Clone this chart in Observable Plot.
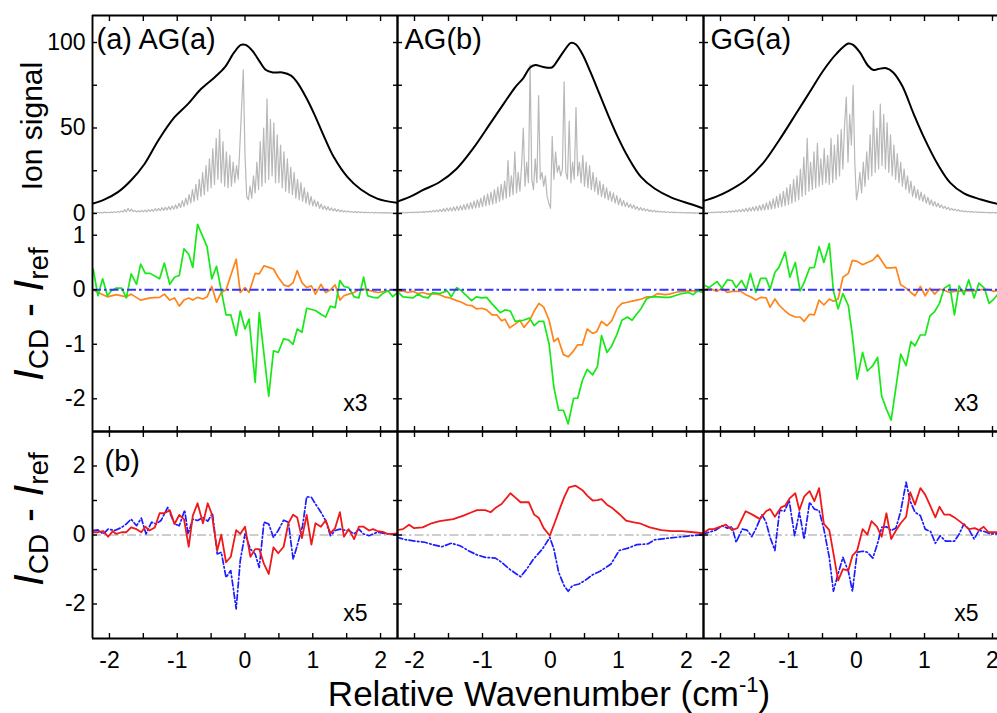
<!DOCTYPE html>
<html><head><meta charset="utf-8">
<script src="https://cdn.jsdelivr.net/npm/d3@7"></script>
<script src="https://cdn.jsdelivr.net/npm/@observablehq/plot@0.6"></script>
<style>
html,body{margin:0;padding:0;background:#fff;}
body{width:997px;height:713px;overflow:hidden;font-family:"Liberation Sans",Arial,sans-serif;}
#fig{position:relative;width:997px;height:713px;overflow:hidden;}
#fig svg{position:absolute;}
</style></head><body><div id="fig"></div>
<script>
// ---------------- data ----------------
const panelNames = ["(a) AG(a)", "AG(b)", "GG(a)"];
const rowBLabel = "(b)";
const scaleNoteMid = ["x3", "", "x3"];
const scaleNoteBot = ["x5", "", "x5"];
const xTicks = [-2, -1.5, -1, -0.5, 0, 0.5, 1, 1.5, 2];
const xTickLabels = [-2, -1, 0, 1, 2];
const ionTicks = [0, 25, 50, 75, 100];
const ionTickLabels = [0, 50, 100];
const midTicks = [-2, -1, 0, 1];
const midTickLabels = [-2, -1, 0, 1];
const botTicks = [-2, -1, 0, 1, 2];
const botTickLabels = [-2, 0, 2];

// smooth envelope (black)
const envAGa = [[-2.24,5.8],[-2.07,8.2],[-1.87,12.6],[-1.68,19.4],[-1.48,29.1],[-1.28,42.7],[-1.04,56.3],[-0.84,64.1],[-0.65,72.8],[-0.45,79.6],[-0.30,85.4],[-0.16,94.2],[-0.06,98.6],[0.01,98.6],[0.11,95.1],[0.21,89.3],[0.31,83.9],[0.41,82.5],[0.55,82.5],[0.68,80.6],[0.77,76.7],[0.90,68.0],[1.02,58.3],[1.17,44.7],[1.31,33.0],[1.51,21.4],[1.71,14.0],[1.95,8.7],[2.25,6.2]];
const envAGb = [[-2.26,6.8],[-2.07,9.7],[-1.88,13.6],[-1.63,18.4],[-1.38,26.2],[-1.14,37.9],[-0.89,52.4],[-0.69,64.1],[-0.52,73.8],[-0.40,79.2],[-0.30,85.4],[-0.22,86.8],[-0.12,85.8],[0.02,85.4],[0.10,89.3],[0.20,95.1],[0.30,99.8],[0.37,99.0],[0.47,93.2],[0.59,82.5],[0.72,69.9],[0.84,58.3],[0.99,44.7],[1.14,33.0],[1.33,21.4],[1.53,14.6],[1.78,9.3],[2.07,5.4],[2.25,2.9]];
const envGGa = [[-2.26,7.2],[-2.07,9.7],[-1.88,13.2],[-1.63,19.4],[-1.38,29.1],[-1.14,42.7],[-0.89,58.3],[-0.69,70.9],[-0.49,83.5],[-0.30,93.2],[-0.12,99.4],[-0.05,98.6],[0.05,94.2],[0.17,86.4],[0.25,83.9],[0.32,84.5],[0.44,85.0],[0.54,82.5],[0.67,74.8],[0.84,58.3],[0.99,44.7],[1.19,29.1],[1.38,17.9],[1.58,11.7],[1.83,8.2],[2.10,5.4],[2.25,4.4]];

// rotationally resolved spectra (grey), sampled from x = -2.25 every 0.025
const grayX0 = -2.25, grayDx = 0.025;
const grayAGa = [0.3,0.6,0.3,0.7,0.4,0.6,0.3,0.8,0.4,0.7,0.4,
0.9,0.5,1.0,0.6,1.2,0.7,1.5,0.8,2.2,1.0,3.0,1.2,2.6,1.0,1.8,0.9,1.6,0.9,1.8,1.0,
2.0,1.0,2.2,1.2,2.4,1.3,2.8,1.5,3.0,1.6,3.4,1.8,3.6,2.0,4.0,2.2,4.4,2.5,5.0,2.8,
6,3.5,7.5,4,9,5,11,6,14,7,17,8,20,10,24,11,28,13,32,15,
38,17,44,20,49,18,42,16,36,15,34,16,30,18,28,20,40,62,84,34,
10,8,16,9,22,12,30,14,42,16,50,18,67,20,55,22,53,18,46,18,
40,15,36,13,32,12,27,11,24,9,20,8,18,7,15,6,12.5,5,10,4.5,
8,4,7,3,5.5,2.5,4.5,2,4,1.8,3.2,1.5,2.8,1.2,2.4,1.0,2.0,0.9,1.6,0.8,
1.4,0.7,1.2,0.6,1.1,0.5,1.0,0.5,0.9,0.4,0.8,0.4,0.7,0.3,0.7,0.3,0.6,0.3,0.6,0.3,0.5,0.3,0.5,0.3,0.5,0.2,0.4,0.2,0.4,0.2];
const grayAGb = [0.2,0.5,0.3,0.6,0.3,0.6,0.4,0.7,0.4,0.8,0.5,
0.9,0.5,1.0,0.6,1.1,0.6,1.3,0.7,1.5,0.8,1.8,0.9,2.0,1.0,2.4,1.1,2.8,1.2,3.2,1.4,
3.4,1.5,3.8,1.6,4.2,1.8,4.6,2.0,5.2,2.2,5.8,2.5,6.4,2.8,7.2,3.2,8.0,3.6,9.0,4.0,
10.5,4.5,11.5,5,12.5,5.5,14,6,15.5,7,17,8,19,9,31,10,22,11,36,12,
24,13,28,50,16,30,18,87,20,14,32,18,69,20,24,16,22,10,6,3,
45,20,36,24,28,22,26,77,24,20,54,18,30,20,62,22,30,18,34,16,
30,15,28,14,24,13,21,11,19,10,17,9,15,8,13,7,12,6,10.5,5,
9,4.5,7.5,4,6.5,3.5,5.5,3,5,2.5,4,2,3.5,1.8,3,1.5,2.5,1.2,2,1,
1.8,0.9,1.5,0.8,1.3,0.7,1.1,0.6,1.0,0.5,0.9,0.5,0.8,0.4,0.7,0.4,0.6,0.3,0.6,0.3,0.5,0.3,0.5,0.2,0.4,0.2,0.4,0.2,0.3,0.2];
const grayGGa = [0.3,0.6,0.3,0.7,0.4,0.8,0.4,0.9,0.5,1.0,0.5,
1.1,0.6,1.2,0.6,1.4,0.7,1.6,0.8,1.9,0.9,2.2,1.0,2.6,1.1,3.0,1.2,3.4,1.4,3.8,1.5,
4.2,1.6,4.8,1.8,5.4,2.0,6.2,2.3,7.2,2.6,8.5,3.0,10,3.5,11.5,4.0,13,4.6,15,5.2,
17,6,20,7,22,8,26,10,33,11,44,13,30,14,36,15,41,16,32,17,
38,18,34,17,44,18,40,20,46,22,49,26,52,68,30,58,40,75,30,8,
14,24,12,30,16,36,20,46,22,60,24,50,26,64,28,58,26,53,24,46,
22,40,20,35,18,30,16,26,14,22,12,19,10,16,9,14,8,12.5,7,11,
6,9.5,5,8,4.5,7,4,6,3.5,5,3,4.2,2.5,3.6,2,3,1.8,2.6,1.5,2.2,
1.2,1.8,1.0,1.5,0.9,1.3,0.8,1.1,0.7,1.0,0.6,0.9,0.5,0.8,0.5,0.7,0.4,0.6,0.4,0.6,0.3,0.5,0.3,0.5,0.3,0.4,0.2,0.4,0.2,0.3];

// I_CD - I_ref, middle row (green, orange)
const greenAGa = [[-2.24,0.38],[-2.17,-0.11],[-2.10,0.20],[-2.03,-0.11],[-1.97,-0.02],[-1.90,0.03],[-1.82,0.03],[-1.75,-0.15],[-1.68,0.29],[-1.60,0.10],[-1.54,0.47],[-1.47,0.30],[-1.40,0.30],[-1.26,0.20],[-1.19,0.49],[-1.11,0.10],[-1.04,0.23],[-0.97,0.26],[-0.90,0.75],[-0.83,0.65],[-0.77,0.41],[-0.70,1.20],[-0.56,0.79],[-0.49,0.20],[-0.42,0.43],[-0.28,-0.46],[-0.21,-0.46],[-0.13,-0.84],[-0.07,-0.39],[0.00,-0.72],[0.06,-0.54],[0.15,-1.70],[0.21,-0.42],[0.28,-1.18],[0.35,-1.95],[0.42,-1.12],[0.49,-1.15],[0.57,-0.90],[0.64,-0.92],[0.71,-1.00],[0.77,-0.72],[0.84,-0.78],[0.91,-0.34],[1.04,-0.38],[1.12,-0.45],[1.19,-0.50],[1.26,-0.30],[1.33,-0.33],[1.40,0.17],[1.46,0.06],[1.53,0.04],[1.61,-0.13],[1.68,-0.15],[1.75,0.23],[1.81,-0.11],[1.89,-0.14],[1.96,-0.15],[2.03,-0.07],[2.11,-0.02],[2.18,-0.13],[2.25,-0.05]];
const orangeAGa = [[-2.24,0.00],[-2.17,-0.05],[-2.03,-0.13],[-1.90,-0.09],[-1.75,-0.13],[-1.68,-0.08],[-1.54,-0.19],[-1.40,-0.15],[-1.26,-0.14],[-1.19,-0.08],[-1.11,-0.19],[-1.04,-0.15],[-0.97,-0.30],[-0.90,-0.19],[-0.83,-0.15],[-0.77,-0.19],[-0.70,-0.14],[-0.62,-0.17],[-0.56,-0.13],[-0.49,0.06],[-0.42,-0.23],[-0.35,-0.05],[-0.28,0.00],[-0.13,0.56],[-0.07,-0.05],[0.00,0.04],[0.06,-0.05],[0.15,0.30],[0.21,0.29],[0.28,0.44],[0.35,0.41],[0.42,0.38],[0.49,0.23],[0.57,0.09],[0.64,0.06],[0.71,0.13],[0.77,0.35],[0.84,0.13],[0.91,0.04],[0.98,0.07],[1.04,-0.08],[1.12,0.10],[1.19,-0.05],[1.26,0.00],[1.33,0.09],[1.40,-0.19],[1.46,-0.11],[1.53,-0.08],[1.61,-0.05],[1.68,0.00],[1.75,0.01],[1.89,-0.03],[1.96,-0.05],[2.11,-0.02],[2.18,0.00],[2.25,-0.03]];
const greenAGb = [[-2.26,-0.02],[-2.17,-0.13],[-2.02,-0.15],[-1.95,-0.08],[-1.88,-0.13],[-1.80,-0.15],[-1.73,-0.05],[-1.63,-0.07],[-1.52,-0.02],[-1.46,-0.13],[-1.38,0.04],[-1.31,-0.02],[-1.16,-0.20],[-1.09,-0.13],[-1.01,-0.15],[-0.94,-0.14],[-0.86,-0.26],[-0.74,-0.42],[-0.67,-0.37],[-0.59,-0.39],[-0.52,-0.58],[-0.40,-0.56],[-0.31,-0.52],[-0.24,-0.66],[-0.17,-0.58],[-0.10,-0.58],[-0.02,-1.00],[0.05,-1.79],[0.12,-2.21],[0.19,-2.21],[0.26,-2.46],[0.34,-1.99],[0.40,-1.99],[0.47,-1.66],[0.54,-1.46],[0.62,-1.56],[0.69,-1.41],[0.75,-0.84],[0.83,-1.15],[0.90,-1.03],[0.98,-0.81],[1.05,-0.56],[1.13,-0.50],[1.20,-0.56],[1.26,-0.46],[1.33,-0.35],[1.41,-0.17],[1.48,-0.13],[1.58,-0.13],[1.68,-0.14],[1.75,-0.14],[1.83,-0.11],[1.93,-0.07],[2.03,-0.05],[2.10,-0.09],[2.16,-0.02],[2.25,-0.05]];
const orangeAGb = [[-2.26,-0.03],[-2.17,-0.02],[-2.10,-0.05],[-2.02,-0.03],[-1.95,-0.07],[-1.88,-0.05],[-1.80,-0.08],[-1.73,-0.07],[-1.63,-0.09],[-1.56,-0.13],[-1.48,-0.15],[-1.38,-0.20],[-1.31,-0.23],[-1.23,-0.28],[-1.16,-0.29],[-1.09,-0.35],[-1.01,-0.34],[-0.94,-0.37],[-0.86,-0.46],[-0.79,-0.46],[-0.72,-0.57],[-0.67,-0.54],[-0.60,-0.70],[-0.52,-0.63],[-0.45,-0.56],[-0.39,-0.69],[-0.31,-0.57],[-0.24,-0.39],[-0.17,-0.25],[-0.10,-0.32],[-0.02,-0.56],[0.05,-0.95],[0.11,-0.89],[0.19,-1.19],[0.26,-1.23],[0.34,-1.12],[0.40,-1.01],[0.47,-1.01],[0.54,-0.72],[0.62,-0.80],[0.68,-0.77],[0.75,-0.58],[0.83,-0.66],[0.90,-0.57],[0.98,-0.34],[1.05,-0.25],[1.13,-0.23],[1.20,-0.21],[1.27,-0.19],[1.34,-0.17],[1.42,-0.13],[1.50,-0.13],[1.58,-0.07],[1.68,-0.09],[1.75,-0.08],[1.83,-0.05],[1.93,-0.03],[2.02,-0.02],[2.10,-0.02],[2.16,-0.03],[2.25,-0.01]];
const greenGGa = [[-2.26,0.10],[-2.17,0.04],[-2.05,0.15],[-1.98,0.03],[-1.90,0.18],[-1.83,0.17],[-1.77,0.04],[-1.69,0.17],[-1.62,0.01],[-1.56,0.30],[-1.48,-0.05],[-1.41,0.21],[-1.33,0.21],[-1.27,0.01],[-1.20,0.32],[-1.14,0.41],[-1.05,0.69],[-0.98,0.23],[-0.90,0.50],[-0.83,-0.02],[-0.77,0.13],[-0.69,0.40],[-0.62,0.41],[-0.55,0.79],[-0.48,0.50],[-0.40,0.85],[-0.34,-0.02],[-0.27,-0.35],[-0.20,-0.07],[-0.12,-0.29],[-0.06,-0.84],[0.01,-1.64],[0.09,-1.15],[0.16,-1.49],[0.24,-1.39],[0.31,-1.24],[0.37,-1.95],[0.44,-2.19],[0.51,-2.39],[0.58,-1.79],[0.65,-1.18],[0.73,-1.39],[0.80,-0.95],[0.86,-1.03],[0.94,-0.83],[1.01,-0.83],[1.08,-0.48],[1.15,-0.40],[1.22,-0.25],[1.29,0.03],[1.37,0.09],[1.44,-0.46],[1.51,0.07],[1.58,-0.09],[1.65,0.18],[1.73,-0.15],[1.80,0.12],[1.88,0.03],[1.95,-0.25],[2.02,-0.17],[2.10,-0.05]];
const orangeGGa = [[-2.26,-0.02],[-2.17,0.03],[-2.05,-0.03],[-1.98,0.03],[-1.90,-0.05],[-1.83,-0.03],[-1.70,-0.03],[-1.63,-0.09],[-1.56,-0.13],[-1.48,-0.19],[-1.41,-0.14],[-1.33,-0.15],[-1.27,-0.32],[-1.20,-0.17],[-1.14,-0.28],[-1.05,-0.39],[-0.98,-0.46],[-0.90,-0.50],[-0.83,-0.50],[-0.77,-0.58],[-0.69,-0.45],[-0.62,-0.46],[-0.55,-0.19],[-0.48,-0.28],[-0.40,-0.17],[-0.34,-0.21],[-0.27,-0.17],[-0.20,0.23],[-0.12,0.30],[-0.06,0.54],[0.01,0.52],[0.09,0.46],[0.16,0.50],[0.24,0.54],[0.31,0.64],[0.37,0.53],[0.44,0.40],[0.51,0.40],[0.58,0.41],[0.65,0.09],[0.73,0.03],[0.80,-0.05],[0.86,-0.11],[0.94,0.06],[1.01,-0.11],[1.08,0.03],[1.15,-0.08],[1.22,0.01],[1.29,-0.01],[1.37,-0.05],[1.44,-0.03],[1.58,-0.02],[1.73,-0.02],[1.88,0.01],[1.95,0.00],[2.02,-0.03],[2.10,-0.01]];

// I_CD - I_ref, bottom row (red solid, blue dash-dot)
const redAGa = [[-2.24,0.08],[-2.17,0.08],[-2.09,0.11],[-2.02,-0.05],[-1.95,0.11],[-1.90,0.03],[-1.82,0.08],[-1.75,0.08],[-1.68,0.22],[-1.60,0.17],[-1.53,0.08],[-1.47,0.24],[-1.41,0.13],[-1.33,0.22],[-1.26,0.63],[-1.19,0.63],[-1.11,0.72],[-1.04,0.32],[-0.97,0.58],[-0.90,0.46],[-0.83,-0.34],[-0.77,0.56],[-0.70,0.92],[-0.62,0.34],[-0.55,0.92],[-0.49,0.61],[-0.41,-0.45],[-0.35,0.01],[-0.28,-0.79],[-0.21,-0.63],[-0.13,0.14],[-0.07,0.03],[0.00,0.24],[0.08,-0.63],[0.15,-0.41],[0.21,-0.41],[0.28,-0.84],[0.35,-1.13],[0.42,-0.36],[0.49,-0.53],[0.57,-0.34],[0.64,0.34],[0.71,0.59],[0.77,0.51],[0.84,-0.09],[0.91,0.58],[0.98,-0.28],[1.04,0.34],[1.12,0.24],[1.19,0.43],[1.26,0.05],[1.33,0.20],[1.40,0.66],[1.46,-0.05],[1.53,0.17],[1.61,-0.12],[1.68,0.24],[1.75,0.24],[1.83,0.13],[1.89,0.17],[1.96,0.11],[2.05,0.08],[2.11,0.03],[2.18,0.03],[2.25,0.05]];
const blueAGa = [[-2.24,0.13],[-2.17,0.15],[-2.09,0.03],[-2.02,0.17],[-1.92,0.13],[-1.82,0.22],[-1.75,0.32],[-1.68,0.46],[-1.60,0.27],[-1.53,0.49],[-1.46,0.03],[-1.38,0.37],[-1.31,0.32],[-1.24,0.42],[-1.14,0.80],[-1.04,0.32],[-0.97,0.27],[-0.89,0.72],[-0.84,0.03],[-0.77,0.46],[-0.70,0.42],[-0.62,0.51],[-0.55,0.40],[-0.48,0.63],[-0.41,-0.55],[-0.35,-0.50],[-0.28,-1.23],[-0.21,-1.03],[-0.13,-2.14],[-0.07,-0.74],[0.00,0.03],[0.08,-0.41],[0.15,-0.55],[0.21,-0.94],[0.28,0.37],[0.35,0.32],[0.42,-0.07],[0.49,0.13],[0.57,0.43],[0.64,0.37],[0.71,-0.70],[0.77,-0.31],[0.85,0.27],[0.91,1.11],[0.98,1.09],[1.04,0.90],[1.12,0.66],[1.19,0.42],[1.26,-0.02],[1.33,0.13],[1.40,0.17],[1.46,0.14],[1.53,0.13],[1.61,0.03],[1.68,0.17],[1.75,0.03],[1.83,-0.02],[1.95,0.08],[2.11,0.03],[2.25,0.01]];
const redAGb = [[-2.26,0.14],[-2.17,0.17],[-2.08,0.30],[-2.01,0.20],[-1.88,0.22],[-1.75,0.34],[-1.63,0.40],[-1.43,0.46],[-1.28,0.56],[-1.16,0.66],[-1.08,0.72],[-0.96,0.72],[-0.88,0.66],[-0.80,0.80],[-0.72,0.90],[-0.59,1.21],[-0.52,1.09],[-0.44,0.95],[-0.32,0.95],[-0.24,0.59],[-0.17,0.49],[-0.10,0.20],[-0.01,-0.02],[0.07,0.40],[0.14,0.78],[0.20,1.09],[0.27,1.38],[0.37,1.43],[0.47,1.30],[0.54,1.14],[0.62,1.00],[0.69,1.01],[0.75,1.04],[0.83,0.88],[0.91,0.78],[1.01,0.61],[1.11,0.42],[1.21,0.37],[1.31,0.34],[1.46,0.22],[1.63,0.14],[1.78,0.11],[1.93,0.11],[2.10,0.08],[2.25,0.05]];
const blueAGb = [[-2.26,-0.07],[-2.12,-0.14],[-1.98,-0.18],[-1.85,-0.21],[-1.73,-0.28],[-1.60,-0.34],[-1.46,-0.24],[-1.33,-0.31],[-1.21,-0.45],[-1.09,-0.57],[-0.96,-0.65],[-0.81,-0.67],[-0.72,-0.79],[-0.59,-1.01],[-0.44,-1.21],[-0.35,-0.99],[-0.25,-0.70],[-0.12,-0.41],[-0.01,-0.07],[0.05,-0.41],[0.12,-1.08],[0.20,-1.47],[0.26,-1.63],[0.32,-1.47],[0.42,-1.42],[0.52,-1.30],[0.62,-1.15],[0.73,-1.05],[0.89,-0.84],[1.01,-0.45],[1.14,-0.38],[1.27,-0.28],[1.43,-0.26],[1.53,-0.14],[1.73,-0.09],[1.93,-0.05],[2.07,-0.02],[2.25,0.01]];
const redGGa = [[-2.26,0.05],[-2.17,0.17],[-2.10,0.17],[-2.00,0.24],[-1.92,0.30],[-1.83,0.14],[-1.75,0.20],[-1.63,0.69],[-1.53,0.59],[-1.42,0.46],[-1.33,0.69],[-1.27,0.75],[-1.20,0.53],[-1.11,0.80],[-1.05,0.85],[-0.98,1.07],[-0.90,1.21],[-0.84,0.72],[-0.77,1.11],[-0.69,1.27],[-0.62,0.98],[-0.55,1.36],[-0.48,0.32],[-0.40,0.14],[-0.35,-0.41],[-0.27,-1.32],[-0.20,-0.99],[-0.12,-1.03],[-0.06,-0.60],[0.01,-0.45],[0.09,0.17],[0.16,0.01],[0.22,0.40],[0.30,0.24],[0.37,-0.05],[0.44,0.63],[0.51,-0.12],[0.58,0.13],[0.65,0.34],[0.73,0.53],[0.79,1.24],[0.86,0.88],[0.94,1.36],[1.01,1.17],[1.09,0.82],[1.16,0.51],[1.22,0.82],[1.29,0.59],[1.37,0.59],[1.44,0.51],[1.58,0.30],[1.65,0.17],[1.74,0.20],[1.80,0.14],[1.87,0.24],[1.94,0.08],[2.02,0.08],[2.10,0.08]];
const blueGGa = [[-2.26,0.03],[-2.17,0.08],[-2.07,0.14],[-1.98,0.27],[-1.90,0.20],[-1.83,0.24],[-1.77,-0.21],[-1.68,0.17],[-1.61,0.14],[-1.54,-0.05],[-1.47,0.22],[-1.39,0.59],[-1.33,0.37],[-1.27,-0.07],[-1.20,-0.45],[-1.13,0.72],[-1.06,0.69],[-0.99,1.00],[-0.91,-0.02],[-0.84,0.66],[-0.77,-0.12],[-0.69,0.95],[-0.62,0.75],[-0.55,0.71],[-0.48,0.17],[-0.40,-0.65],[-0.34,-1.63],[-0.26,-1.05],[-0.20,-0.65],[-0.12,-1.05],[-0.06,-1.63],[0.01,-0.50],[0.09,-0.47],[0.16,-0.50],[0.24,-0.67],[0.31,-0.24],[0.37,0.22],[0.44,0.24],[0.51,0.13],[0.58,0.20],[0.65,0.69],[0.73,1.53],[0.79,0.98],[0.86,0.66],[0.94,0.56],[1.01,0.17],[1.09,0.10],[1.16,-0.24],[1.23,-0.02],[1.31,-0.18],[1.44,-0.18],[1.51,0.03],[1.58,0.32],[1.65,0.17],[1.73,-0.12],[1.80,0.13],[1.87,0.11],[1.97,0.03],[2.10,0.03]];

const ionSeries = [[envAGa, grayAGa], [envAGb, grayAGb], [envGGa, grayGGa]];
const midSeries = [[greenAGa, orangeAGa], [greenAGb, orangeAGb], [greenGGa, orangeGGa]];
const botSeries = [[redAGa, blueAGa], [redAGb, blueAGb], [redGGa, blueGGa]];

// ---------------- layout ----------------
const FONT = '"Liberation Sans", Arial, sans-serif';
const colX = [92, 397, 703];
const colW = [305, 306, 306];
const rowY = [15, 214, 431];
const rowH = [199, 217, 207];
const xDomain = [-2.25, 2.25];
const yDomains = [[-0.6, 115.8], [-2.6, 1.38], [-3, 3]];
const FR = {stroke: "#000", strokeWidth: 1.9};
const TICKFS = 23;
const fig = document.getElementById("fig");

const X = d => d[0], Y = d => d[1];
const tickOpts = {tickSize: -5, strokeWidth: 1.4, fill: "none", label: null};
const fmt = d => String(d);

function place(svg, col, row) {
  svg.style.left = colX[col] + "px";
  svg.style.top = rowY[row] + "px";
  svg.style.overflow = "visible";
  fig.appendChild(svg);
}

function plotPanel(col, row, marks) {
  return Plot.plot({
    width: colW[col], height: rowH[row],
    marginLeft: 0, marginRight: 0, marginTop: 0, marginBottom: 0,
    x: {domain: xDomain},
    y: {domain: yDomains[row]},
    style: {fontFamily: FONT, fontSize: TICKFS + "px", overflow: "visible", background: "transparent", color: "#000"},
    marks
  });
}

for (let c = 0; c < 3; c++) {
  // --- top row: ion signal
  const [env, gray] = ionSeries[c];
  const grayData = gray.map((v, i) => [grayX0 + i * grayDx, v]);
  const m1 = [
    Plot.line(grayData, {x: X, y: Y, stroke: "#b8b8b8", strokeWidth: 1.2, clip: true}),
    Plot.line(env, {x: X, y: Y, curve: "catmull-rom", stroke: "#000", strokeWidth: 2, clip: true}),
    Plot.ruleY([yDomains[0][1]], FR),
    Plot.ruleX([xDomain[0]], FR),
    Plot.ruleX([xDomain[1]], FR),
    Plot.axisX(xTicks, {anchor: "top", ...tickOpts}),
    Plot.axisY(ionTicks, {anchor: "left", ...tickOpts}),
    Plot.axisY(ionTicks, {anchor: "right", ...tickOpts}),
    Plot.text([panelNames[c]], {text: d => d, frameAnchor: "top-left", dx: c === 0 ? 4 : 7, dy: 13, lineAnchor: "top", textAnchor: "start", fontSize: 29})
  ];
  if (c === 0) m1.push(Plot.axisY(ionTickLabels, {anchor: "left", tickSize: 0, tickPadding: 7, tickFormat: fmt, fontSize: TICKFS, label: null}));
  place(plotPanel(c, 0, m1), c, 0);

  // --- middle row
  const [green, orange] = midSeries[c];
  const m2 = [
    Plot.line(orange, {x: X, y: Y, stroke: "#ff8419", strokeWidth: 1.7, clip: true}),
    Plot.line(green, {x: X, y: Y, stroke: "#17e817", strokeWidth: 1.7, clip: true}),
    Plot.ruleY([0], {stroke: "#3434ff", strokeWidth: 2, strokeDasharray: "9,3,2.5,3"}),
    Plot.ruleY([yDomains[1][0]], FR),
    Plot.ruleX([xDomain[0]], FR),
    Plot.ruleX([xDomain[1]], FR),
    Plot.axisX(xTicks, {anchor: "bottom", ...tickOpts}),
    Plot.axisY(midTicks, {anchor: "left", ...tickOpts}),
    Plot.axisY(midTicks, {anchor: "right", ...tickOpts})
  ];
  if (scaleNoteMid[c]) m2.push(Plot.text([scaleNoteMid[c]], {text: d => d, frameAnchor: "bottom-right", dx: c === 0 ? -30 : -31, dy: -28, lineAnchor: "middle", textAnchor: "end", fontSize: 23}));
  if (c === 0) m2.push(Plot.axisY(midTickLabels, {anchor: "left", tickSize: 0, tickPadding: 7, tickFormat: fmt, fontSize: TICKFS, label: null}));
  place(plotPanel(c, 1, m2), c, 1);

  // --- bottom row
  const [red, blue] = botSeries[c];
  const m3 = [
    Plot.ruleY([0], {stroke: "#bdbdbd", strokeWidth: 1.4, strokeDasharray: "9,3,2.5,3"}),
    Plot.line(blue, {x: X, y: Y, stroke: "#1c1cff", strokeWidth: 1.7, strokeDasharray: "6,2.5,1.5,2.5", clip: true}),
    Plot.line(red, {x: X, y: Y, stroke: "#f01818", strokeWidth: 1.8, clip: true}),
    Plot.ruleY([yDomains[2][0]], FR),
    Plot.ruleY([yDomains[2][1]], FR),
    Plot.ruleX([xDomain[0]], FR),
    Plot.ruleX([xDomain[1]], FR),
    Plot.axisX(xTicks, {anchor: "bottom", ...tickOpts}),
    Plot.axisX(xTicks, {anchor: "top", ...tickOpts}),
    Plot.axisY(botTicks, {anchor: "left", ...tickOpts}),
    Plot.axisY(botTicks, {anchor: "right", ...tickOpts}),
    Plot.axisX(xTickLabels, {anchor: "bottom", tickSize: 0, tickPadding: 13, tickFormat: fmt, fontSize: TICKFS, label: null})
  ];
  if (scaleNoteBot[c]) m3.push(Plot.text([scaleNoteBot[c]], {text: d => d, frameAnchor: "bottom-right", dx: c === 0 ? -30 : -31, dy: -25, lineAnchor: "middle", textAnchor: "end", fontSize: 23}));
  if (c === 0) {
    m3.push(Plot.axisY(botTickLabels, {anchor: "left", tickSize: 0, tickPadding: 7, tickFormat: fmt, fontSize: TICKFS, label: null}));
    m3.push(Plot.text([rowBLabel], {text: d => d, frameAnchor: "top-left", dx: 12, dy: 19, lineAnchor: "top", textAnchor: "start", fontSize: 29}));
  }
  place(plotPanel(c, 2, m3), c, 2);
}

// ---------------- axis titles (overlay) ----------------
const NS = "http://www.w3.org/2000/svg";
const ov = document.createElementNS(NS, "svg");
ov.setAttribute("width", 997); ov.setAttribute("height", 713);
ov.style.left = "0px"; ov.style.top = "0px";
ov.setAttribute("font-family", FONT);
const diffLabel = `<tspan font-style="italic">I</tspan><tspan font-size="28" dy="5">CD</tspan><tspan dy="-5"> - </tspan><tspan font-style="italic">I</tspan><tspan font-size="28" dy="5">ref</tspan>`;
ov.innerHTML = `
<text x="549" y="706" text-anchor="middle" font-size="35">Relative Wavenumber (cm<tspan font-size="22" dy="-14">-1</tspan><tspan dy="14">)</tspan></text>
<text transform="translate(42,126) rotate(-90)" text-anchor="middle" font-size="30">Ion signal</text>
<text transform="translate(43,314) rotate(-90)" text-anchor="middle" font-size="42">${diffLabel}</text>
<text transform="translate(43,519) rotate(-90)" text-anchor="middle" font-size="42">${diffLabel}</text>
`;
fig.appendChild(ov);
</script>
</body></html>
